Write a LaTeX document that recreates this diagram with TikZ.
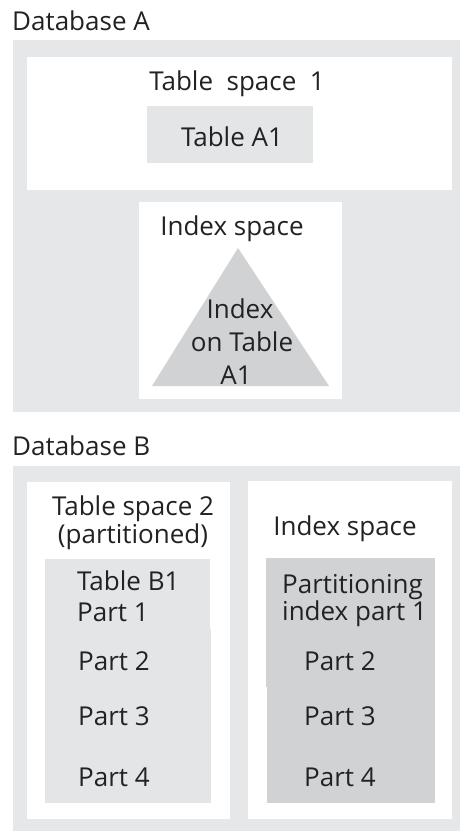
\documentclass[tikz,border=0pt]{standalone}
\usepackage{fontspec}
\setmainfont{Open Sans}
\usepackage{xcolor}
\usetikzlibrary{positioning}

\definecolor{dbgray}{HTML}{E6E7E8}
\definecolor{tblgray}{HTML}{E4E5E7}
\definecolor{idxgray}{HTML}{D1D2D4}
\definecolor{txtcol}{HTML}{222222}

\tikzset{
  dbbox/.style={fill=dbgray},
  spacebox/.style={fill=white},
  tblbox/.style={fill=tblgray},
  idxbox/.style={fill=idxgray},
  txt/.style={inner sep=0pt, text=txtcol, font=\fontsize{26}{31}\selectfont, anchor=base},
  txtl/.style={txt, anchor=base west}
}

\begin{document}
\begin{tikzpicture}[x=1pt,y=-1pt]
   \useasboundingbox (0,0) rectangle (460,831);
   % Database A
   \node[txtl] (dba) at (12,30) {Database A};
   \fill[dbbox] (13,40) rectangle (460,412);
   \fill[spacebox] (27,57) rectangle (452,190);
   \node[txt] (ts1) at (237,90) {Table\ \ space\ \ 1};
   \fill[tblbox] (147,106) rectangle (313,163);
   \node[txt] (ta1) at (232,146) {Table A1};
   \fill[spacebox] (139,202) rectangle (342,399);
   \node[txt] (isa) at (232,235) {Index space};
   \fill[idxbox] (238,248) -- (329,386) -- (152,386) -- cycle;
   \node[txt] (ia1) at (240,318) {Index};
   \node[txt] (ia2) at (242,351) {on Table};
   \node[txt] (ia3) at (236,384) {A1};
   % Database B
   \node[txtl] (dbb) at (12,455) {Database B};
   \fill[dbbox] (13,466) rectangle (460,831);
   \fill[spacebox] (27,482) rectangle (230,819);
   \fill[spacebox] (248,481) rectangle (452,819);
   \node[txt] (ts2) at (133,515) {Table space 2};
   \node[txt] (ts2b) [below=28pt of ts2.base, anchor=base] {(partitioned)};
   \node[txt] (isb) at (345,535) {Index space};
   \fill[tblbox] (45,559) rectangle (210,629);
   \fill[tblbox] (45,629) rectangle (211,803);
   \fill[idxbox] (266,558) rectangle (435,687);
   \fill[idxbox] (267,687) rectangle (435,803);
   \node[txtl] (tb1) at (77,590) {Table B1};
   \node[txtl] (lpart1) at (77,621) {Part 1};
   \node[txtl] (pi1) at (282,593) {Partitioning};
   \node[txtl] (pi2) at (282,620) {index part 1};
   \foreach \i/\y in {2/670,3/725,4/786} {
     \node[txtl] (lpart\i) at (78,\y) {Part \i};
     \node[txtl] (rpart\i) at (304,\y) {Part \i};
   }
\end{tikzpicture}
\end{document}
